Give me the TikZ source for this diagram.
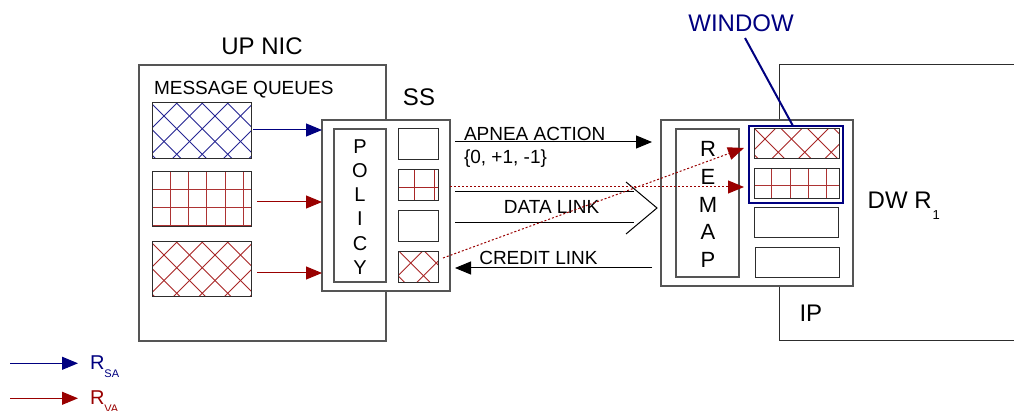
\documentclass[tikz,border=0pt]{standalone}
\usepackage{fontspec}
\setmainfont{Liberation Sans}
\usetikzlibrary{arrows.meta}
\definecolor{navyb}{RGB}{0,0,128}
\definecolor{dred}{RGB}{153,0,0}
\definecolor{framegray}{RGB}{85,85,85}
\definecolor{cellgray}{RGB}{45,45,45}
\newcommand\fs[1]{\fontsize{#1}{#1}\selectfont}
% crossed diagonal hatching inside a node: node, crossing x, crossing y, period, colour
\newcommand\diaghatch[5]{%
  \begin{scope}
    \clip (#1.south west) rectangle (#1.north east);
    \foreach \k in {-6,...,8}{%
      \pgfmathsetmacro\px{#2+\k*#4}
      \draw[#5, line width=0.9pt] (\px-120,#3-120) -- (\px+120,#3+120);
      \draw[#5, line width=0.9pt] (\px-120,#3+120) -- (\px+120,#3-120);
    }
  \end{scope}}
% square grid hatching inside a node: node, x list, y list, colour
\newcommand\gridhatch[4]{%
  \begin{scope}
    \clip (#1.south west) rectangle (#1.north east);
    \foreach \gx in {#2} \draw[#4, line width=0.9pt] (\gx,0) -- (\gx,420);
    \foreach \gy in {#3} \draw[#4, line width=0.9pt] (0,\gy) -- (1014,\gy);
  \end{scope}}
\begin{document}
\begin{tikzpicture}[x=1pt,y=-1pt,
  sz/.style 2 args={minimum width=#1pt, minimum height=#2pt},
  frame/.style={draw=framegray, line width=1.2pt, fill=white, inner sep=0, outer sep=0, anchor=north west},
  cell/.style={draw=cellgray, line width=1pt, fill=white, inner sep=0, outer sep=0, anchor=north west},
  lbl/.style={inner sep=0, outer sep=0},
  tip/.style={-{Triangle[length=16pt,width=13pt]}},
  flow/.style={tip, line width=1pt},
  dotflow/.style={tip, dred, line width=1pt, dash pattern=on 2pt off 2pt},
  plain/.style={draw=black, line width=1pt}]
\useasboundingbox (0,0) rectangle (1014,411);

% ---- outer frames
\node[frame, fill=none, sz={247}{276}] (upnic) at (139,65) {};
\node[cell, fill=none, draw=cellgray, sz={260}{276}] (ip) at (779,65) {};
\node[frame, sz={128}{171}] (ss) at (322,120) {};
\node[frame, sz={192}{166}] (remap) at (661,120) {};

% ---- message queues
\node[cell, sz={99}{56}] (q1) at (152,103) {};
\node[cell, sz={99}{55}] (q2) at (152,172) {};
\node[cell, sz={99}{55}] (q3) at (152,242) {};
\diaghatch{q1}{164}{116}{25.5}{navyb!85}
\gridhatch{q2}{170.3,188.6,206.9,225.2,243.5}{189,207.3,225.4}{dred!80}
\diaghatch{q3}{164}{255}{25.5}{dred!85}
\foreach \q in {q1,q2,q3} \draw[cellgray, line width=1pt] (\q.south west) rectangle (\q.north east);

% ---- scheduler
\node[frame, sz={52}{153}] (policy) at (334,129) {};
\node[cell, sz={40}{31}] (s1) at (398,129) {};
\node[cell, sz={40}{31}] (s2) at (398,170) {};
\node[cell, sz={40}{31}] (s3) at (398,211) {};
\node[cell, sz={40}{31}] (s4) at (398,252) {};
\gridhatch{s2}{414.7,434}{187.3}{dred!85}
\diaghatch{s4}{410.7}{263}{25.5}{dred!85}
\foreach \q in {s2,s4} \draw[cellgray, line width=1pt] (\q.south west) rectangle (\q.north east);
\foreach \ch [count=\i from 0] in {P,O,L,I,C,Y}
  \node[lbl, anchor=base] (pol\i) at (360,153.3+24.2*\i) {\fs{20}\ch};

% ---- remapper and window
\node[frame, sz={63}{148}] (remapin) at (676,129) {};
\foreach \ch [count=\i from 0] in {R,E,M,A,P}
  \node[lbl, anchor=base] (rem\i) at (708,156.7+27.75*\i) {\fs{22}\ch};
\node[cell, sz={85}{30}] (w1) at (754,129) {};
\node[cell, sz={85}{30}] (w2) at (754,169) {};
\node[cell, sz={84}{30}] (w3) at (754,208) {};
\node[cell, sz={84}{30}] (w4) at (755,248) {};
\diaghatch{w1}{765}{139}{26.5}{dred!85}
\gridhatch{w2}{771.7,790,808.3,826.7}{185.7}{dred!80}
\foreach \q in {w1,w2} \draw[cellgray, line width=1pt] (\q.south west) rectangle (\q.north east);
\node[draw=navyb, line width=2pt, inner sep=0, outer sep=0, anchor=north west, sz={94}{77}] (win) at (749,126) {};

% ---- labels
\node[lbl, anchor=base] (upniclbl) at (262,55) {\fs{24}UP NIC};
\node[lbl, anchor=base west] (mqlbl) at (154,94.3) {\fs{19}MESSAGE QUEUES};
\node[lbl, anchor=base] (sslbl) at (419,106) {\fs{24}SS};
\node[lbl, anchor=base, text=navyb] (winlbl) at (741,31.7) {\fs{24}WINDOW};
\node[lbl, anchor=base west] (dwlbl) at (867.7,208.3) {\fs{24}DW R\kern1pt\raisebox{-11pt}{\fs{13}1}};
\node[lbl, anchor=base west] (iplbl) at (799.5,321.7) {\fs{24}IP};
\node[lbl, anchor=base west] (apnlbl) at (464,140.7) {\fs{19}APNEA ACTION};
\node[lbl, anchor=base west] (setlbl) at (464,164) {\fs{19}\{0, +1, -1\}};
\node[lbl, anchor=base] (dllbl) at (551.5,214) {\fs{19}DATA LINK};
\node[lbl, anchor=base west] (crlbl) at (479.3,264.3) {\fs{19}CREDIT LINK};

% ---- queue to policy arrows
\coordinate (a1) at ([shift={(2,-1)}]q1.east);
\coordinate (a2) at ([shift={(6,2.5)}]q2.east);
\coordinate (a3) at ([shift={(6,3.5)}]q3.east);
\draw[flow, navyb] (a1) -- (ss.west |- a1);
\draw[flow, dred] (a2) -- (ss.west |- a2);
\draw[flow, dred] (a3) -- (ss.west |- a3);

% ---- links between SS and remapper
\draw[flow, black] ([shift={(5,22)}]ss.north east) -- ([shift={(-9,22)}]remap.north west);
\draw[flow, black] ([shift={(-9,148)}]remap.north west) -- ([shift={(5,148)}]ss.north east);
\coordinate (dlA) at ([shift={(5,72)}]ss.north east);
\coordinate (dlB) at ([shift={(5,103)}]ss.north east);
\coordinate (chT) at (626,182);
\coordinate (chM) at (657,208);
\coordinate (chB) at (626,234);
\draw[plain] (dlA) -- (634,192);
\draw[plain] (dlB) -- (634,223);
\draw[plain] (chT) -- (chM) -- (chB);

% ---- remapped flows
\draw[dotflow] (ss.east |- 0,187) -- ([xshift=-5pt]win.west |- 0,187);
\draw[dotflow] ([shift={(5,6)}]s4.north east) -- ([shift={(-10,4)}]w1.west);

% ---- window callout
\draw[navyb, line width=2pt] (745,38) -- ([xshift=-3pt]win.north);

% ---- legend
\node[lbl, anchor=base west, text=navyb] (rsa) at (90,369.3) {\fs{20}R\raisebox{-8.4pt}{\fs{11}SA}};
\node[lbl, anchor=base west, text=dred] (rva) at (90,404.3) {\fs{20}R\raisebox{-8.4pt}{\fs{11}VA}};
\coordinate (lsa) at (10,363.3);
\coordinate (lva) at (10,398.3);
\draw[flow, navyb, shorten >=12pt] (lsa) -- (lsa -| rsa.west);
\draw[flow, dred, shorten >=12pt] (lva) -- (lva -| rva.west);
\end{tikzpicture}
\end{document}
